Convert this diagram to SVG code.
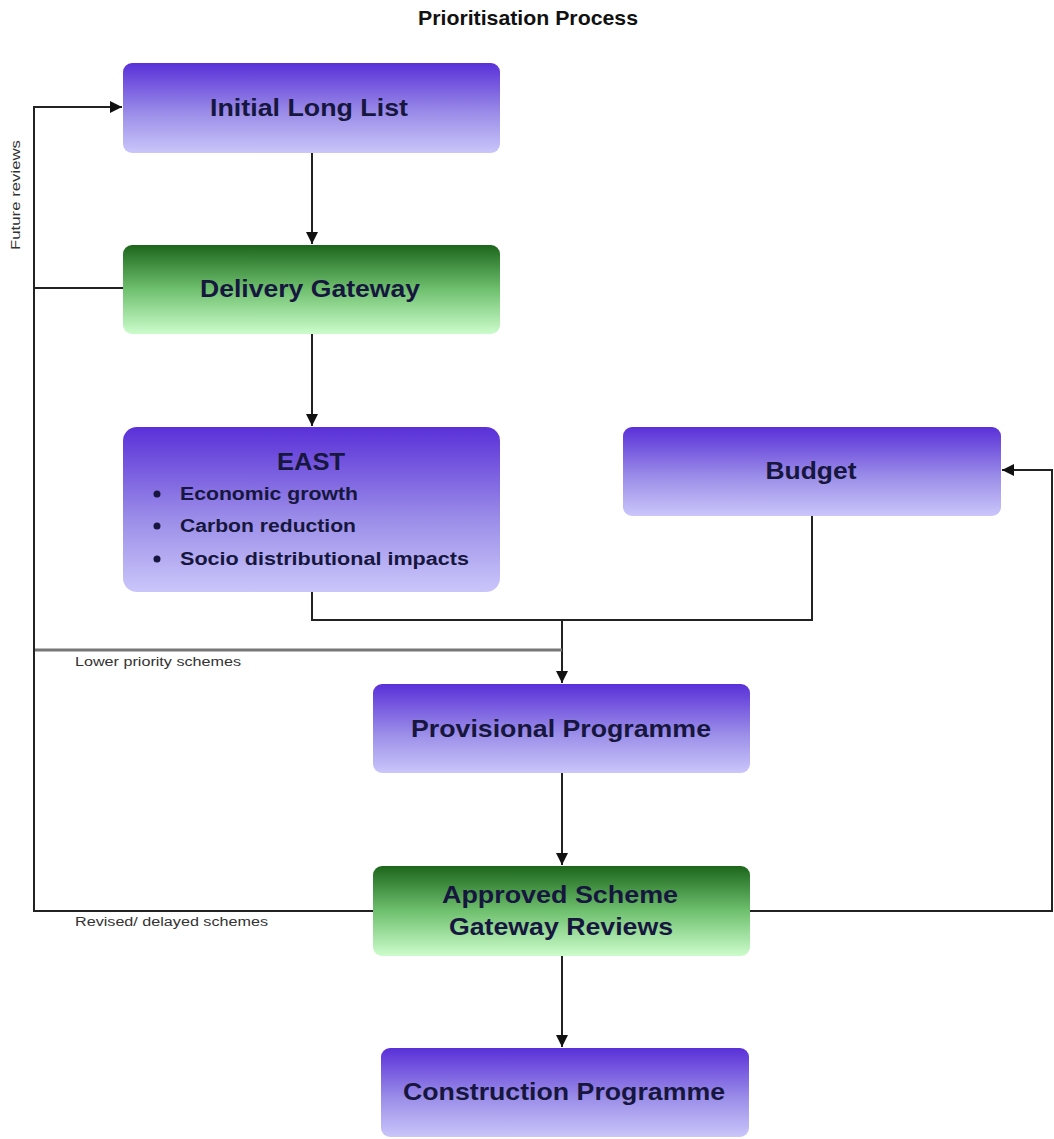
<svg xmlns="http://www.w3.org/2000/svg" width="1054" height="1139" viewBox="0 0 1054 1139">
<defs>
<linearGradient id="gp" x1="0" y1="0" x2="0" y2="1">
<stop offset="0" stop-color="#5a30d8"/>
<stop offset="0.55" stop-color="#9a8ce8"/>
<stop offset="1" stop-color="#cac6fa"/>
</linearGradient>
<linearGradient id="gg" x1="0" y1="0" x2="0" y2="1">
<stop offset="0" stop-color="#1c661c"/>
<stop offset="0.5" stop-color="#6fc06f"/>
<stop offset="1" stop-color="#ccfccc"/>
</linearGradient>
<marker id="ah" viewBox="0 0 12 12" refX="12" refY="6" markerWidth="12" markerHeight="12" markerUnits="userSpaceOnUse" orient="auto">
<path d="M0,0 L12,6 L0,12 z" fill="#111"/>
</marker>
</defs>
<style>
.lbl{font-family:"Liberation Sans",Arial,sans-serif;font-weight:bold;font-size:24px;fill:#16163e;text-anchor:middle}
.item{font-family:"Liberation Sans",Arial,sans-serif;font-weight:bold;font-size:18px;fill:#16163e}
.small{font-family:"Liberation Sans",Arial,sans-serif;font-size:12px;fill:#333}
.ln{fill:none;stroke:#222;stroke-width:2}
.grey{fill:none;stroke:#777;stroke-width:3}
</style>
<rect width="1054" height="1139" fill="#fff"/>
<text x="528" y="25" class="lbl" style="font-size:21px;fill:#111" textLength="220" lengthAdjust="spacingAndGlyphs">Prioritisation Process</text>

<g id="connectors">
<line class="ln" x1="312" y1="153" x2="312" y2="244" marker-end="url(#ah)"/>
<line class="ln" x1="312" y1="334" x2="312" y2="426" marker-end="url(#ah)"/>
<polyline class="ln" points="312,592 312,620 812,620 812,516"/>
<line class="ln" x1="562" y1="620" x2="562" y2="683" marker-end="url(#ah)"/>
<line class="grey" x1="34" y1="650" x2="562" y2="650"/>
<line class="ln" x1="562" y1="773" x2="562" y2="865" marker-end="url(#ah)"/>
<line class="ln" x1="562" y1="956" x2="562" y2="1047" marker-end="url(#ah)"/>
<polyline class="ln" points="373,911 34,911 34,107 122,107" marker-end="url(#ah)"/>
<line class="ln" x1="123" y1="288" x2="34" y2="288"/>
<polyline class="ln" points="750,911 1052,911 1052,470 1002,470" marker-end="url(#ah)"/>
<text class="small" x="75" y="666" textLength="166" lengthAdjust="spacingAndGlyphs">Lower priority schemes</text>
<text class="small" x="75" y="926" textLength="193" lengthAdjust="spacingAndGlyphs">Revised/ delayed schemes</text>
<text class="small" transform="translate(20,250) rotate(-90)" textLength="110" lengthAdjust="spacingAndGlyphs">Future reviews</text>
</g>

<g id="initial">
<rect x="123" y="63" width="377" height="90" rx="9" fill="url(#gp)"/>
<text class="lbl" x="309" y="116" textLength="198" lengthAdjust="spacingAndGlyphs">Initial Long List</text>
</g>
<g id="delivery">
<rect x="123" y="245" width="377" height="89" rx="9" fill="url(#gg)"/>
<text class="lbl" x="310" y="297" textLength="220" lengthAdjust="spacingAndGlyphs">Delivery Gateway</text>
</g>
<g id="east">
<rect x="123" y="427" width="377" height="165" rx="14" fill="url(#gp)"/>
<text class="lbl" x="311" y="470" textLength="68" lengthAdjust="spacingAndGlyphs">EAST</text>
<circle cx="157" cy="494" r="3.5" fill="#16163e"/>
<circle cx="157" cy="526" r="3.5" fill="#16163e"/>
<circle cx="157" cy="559" r="3.5" fill="#16163e"/>
<text class="item" x="180" y="500" textLength="178" lengthAdjust="spacingAndGlyphs">Economic growth</text>
<text class="item" x="180" y="532" textLength="176" lengthAdjust="spacingAndGlyphs">Carbon reduction</text>
<text class="item" x="180" y="565" textLength="289" lengthAdjust="spacingAndGlyphs">Socio distributional  impacts</text>
</g>
<g id="budget">
<rect x="623" y="427" width="378" height="89" rx="9" fill="url(#gp)"/>
<text class="lbl" x="811" y="479" textLength="91" lengthAdjust="spacingAndGlyphs">Budget</text>
</g>
<g id="provisional">
<rect x="373" y="684" width="377" height="89" rx="9" fill="url(#gp)"/>
<text class="lbl" x="561" y="737" textLength="300" lengthAdjust="spacingAndGlyphs">Provisional Programme</text>
</g>
<g id="approved">
<rect x="373" y="866" width="377" height="90" rx="9" fill="url(#gg)"/>
<text class="lbl" x="560" y="903" textLength="236" lengthAdjust="spacingAndGlyphs">Approved Scheme</text>
<text class="lbl" x="561" y="935" textLength="224" lengthAdjust="spacingAndGlyphs">Gateway Reviews</text>
</g>
<g id="construction">
<rect x="381" y="1048" width="368" height="89" rx="9" fill="url(#gp)"/>
<text class="lbl" x="564" y="1100" textLength="322" lengthAdjust="spacingAndGlyphs">Construction Programme</text>
</g>
</svg>
